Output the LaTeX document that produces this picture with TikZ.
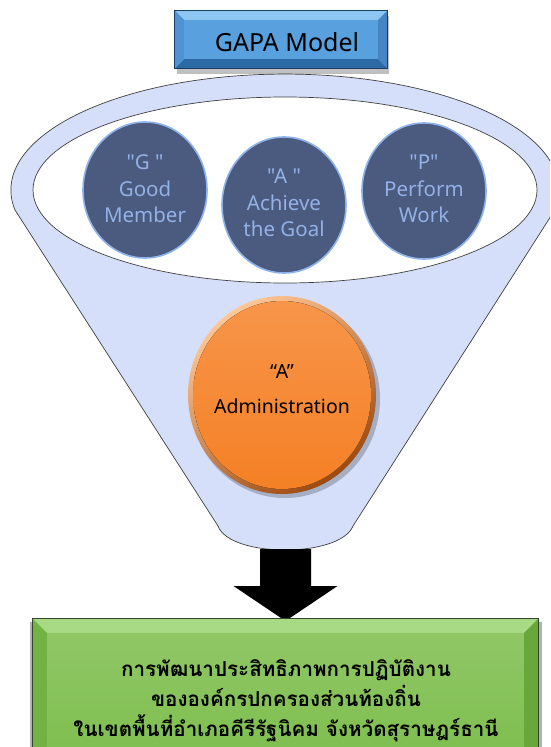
\documentclass[tikz,border=0pt]{standalone}
\usepackage{fontspec}
\setmainfont{Noto Sans}
\newfontfamily\discfont{Noto Sans}[Ligatures=TeXOff]
\newfontfamily\thaifont[Script=Thai]{Loma}
\usetikzlibrary{calc,shapes.geometric}
\definecolor{funnelfill}{HTML}{D5DFFA}
\definecolor{edgegray}{HTML}{404040}
\definecolor{discfill}{HTML}{4B5A7F}
\definecolor{discedge}{HTML}{8DB3EA}
\definecolor{disctext}{HTML}{94B1E6}
\definecolor{gface}{HTML}{58A0DE}
\definecolor{gtop}{HTML}{8DC6F2}
\definecolor{gleft}{HTML}{4F93D2}
\definecolor{gright}{HTML}{4585C4}
\definecolor{gbot}{HTML}{2C6AA6}
\definecolor{gline}{HTML}{1C3D63}
\definecolor{vface}{HTML}{7EBE4E}
\definecolor{vtop}{HTML}{A8D985}
\definecolor{vleft}{HTML}{72B244}
\definecolor{vright}{HTML}{68A83A}
\definecolor{vline}{HTML}{34452A}
\definecolor{orface}{HTML}{F58025}
\definecolor{orlight}{HTML}{F7954A}
\definecolor{orrimlight}{HTML}{FFC796}
\definecolor{orrimdark}{HTML}{9C4A12}
\tikzset{
  disc/.style={ellipse, minimum width=124, minimum height=136, inner sep=0,
    fill=discfill, draw=discedge, line width=1.6pt},
  disclabel/.style={text=disctext, align=center, font=\discfont\fontsize{20.5}{26.5}\selectfont},
}
\begin{document}
\begin{tikzpicture}[x=1pt,y=-1pt]
\useasboundingbox (0,0) rectangle (550,747);
\clip (0,0) rectangle (550,747);

% funnel
\filldraw[fill=funnelfill, draw=edgegray, line width=0.7pt]
  (15,210) arc[start angle=189.9, end angle=-9.9, x radius=274pt, y radius=116pt]
  -- (353,526) .. controls (340,558) and (230,558) .. (218,526) -- cycle;
\filldraw[fill=white, draw=edgegray, line width=0.7pt]
  (285,190) ellipse[x radius=252pt, y radius=93pt];

% title box
\fill[black, opacity=0.25] (177,16) rectangle (389,74);
\node[minimum width=212, minimum height=57, inner sep=0, fill=gface] (gapa) at (281,39.5) {};
\fill[gtop] (gapa.north west) -- (gapa.north east) -- ($(gapa.north east)+(-9,9)$) -- ($(gapa.north west)+(9,9)$) -- cycle;
\fill[gbot] (gapa.south west) -- (gapa.south east) -- ($(gapa.south east)+(-9,-9)$) -- ($(gapa.south west)+(9,-9)$) -- cycle;
\fill[gleft] (gapa.north west) -- ($(gapa.north west)+(9,9)$) -- ($(gapa.south west)+(9,-9)$) -- (gapa.south west) -- cycle;
\fill[gright] (gapa.north east) -- ($(gapa.north east)+(-9,9)$) -- ($(gapa.south east)+(-9,-9)$) -- (gapa.south east) -- cycle;
\draw[gline, line width=0.8pt] (gapa.north west) rectangle (gapa.south east);
\node[font=\fontsize{25}{30}\selectfont, text=black] (gapatext) at (287,42) {GAPA Model};

% three discs
\node[disc] (g) at (145,190) {};
\node[disclabel] (gtext) at (145,189) {"G "\\Good\\Member};
\node[disc] (a) at (284,205) {};
\node[disclabel] (atext) at (284,203) {"A "\\Achieve\\the Goal};
\node[disc] (p) at (424,191) {};
\node[disclabel] (ptext) at (424,189) {"P"\\Perform\\Work};

% orange disc
\fill[black, opacity=0.22] (285,399) ellipse[x radius=95pt, y radius=99pt];
\node[ellipse, minimum width=188, minimum height=198, inner sep=0,
  top color=orrimlight, bottom color=orrimdark, shading angle=35] (admin) at (282,395) {};
\fill[top color=orlight, bottom color=orface] (admin.center) ellipse[x radius=89pt, y radius=94pt];
\node[font=\fontsize{19.5}{35}\selectfont, align=center, text=black] (admintext) at (282,389) {“A”\\Administration};

% block arrow
\coordinate (arr) at (285.5,549);
\fill[black] ($(arr)+(-25.5,0)$) -- ($(arr)+(25.5,0)$) -- ($(arr)+(25.5,37)$) -- ($(arr)+(52,37)$)
  -- ($(arr)+(0,72)$) -- ($(arr)+(-52,37)$) -- ($(arr)+(-25.5,37)$) -- cycle;

% result box
\fill[black, opacity=0.3] (30,622) rectangle (542,760);
\node[minimum width=505, minimum height=141, inner sep=0, top color=vface!85!white, bottom color=vface] (goal) at (285.5,689.5) {};
\fill[vtop] (goal.north west) -- (goal.north east) -- ($(goal.north east)+(-14,14)$) -- ($(goal.north west)+(14,14)$) -- cycle;
\fill[vleft] (goal.north west) -- ($(goal.north west)+(14,14)$) -- ($(goal.south west)+(14,-14)$) -- (goal.south west) -- cycle;
\fill[vright] (goal.north east) -- ($(goal.north east)+(-14,14)$) -- ($(goal.south east)+(-14,-14)$) -- (goal.south east) -- cycle;
\draw[vline, line width=0.8pt] (goal.north west) rectangle (goal.south east);
\node[font=\thaifont\bfseries\fontsize{20.6}{30}\selectfont, align=center, text=black] (goaltext) at (286,701)
  {การพัฒนาประสิทธิภาพการปฏิบัติงาน\\ขององค์กรปกครองส่วนท้องถิ่น\\ในเขตพื้นที่อำเภอคีรีรัฐนิคม จังหวัดสุราษฎร์ธานี};
\end{tikzpicture}
\end{document}
